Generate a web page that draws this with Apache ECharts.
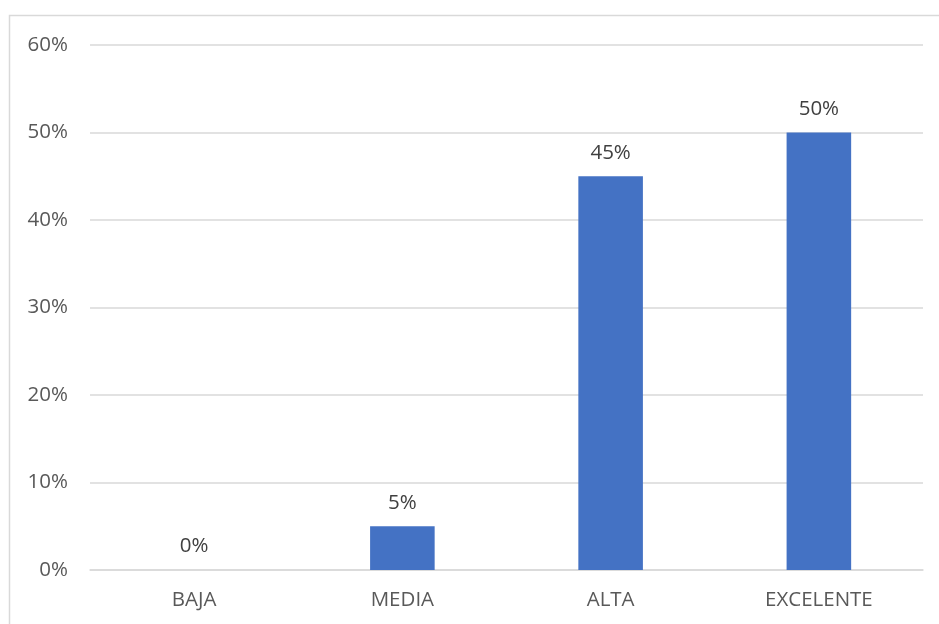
<!DOCTYPE html>
<html><head><meta charset="utf-8">
<style>html,body{margin:0;padding:0;background:#fff;}#c{width:939px;height:624px;}</style>
<script src="https://cdn.jsdelivr.net/npm/echarts@6/dist/echarts.min.js"></script>
</head><body><div id="c"></div>
<script>
const categories = ['BAJA', 'MEDIA', 'ALTA', 'EXCELENTE'];
const values = [0, 5, 45, 50];
const yTicks = [0, 10, 20, 30, 40, 50, 60];

const chart = echarts.init(document.getElementById('c'));
const font = '"Open Sans", sans-serif';
chart.setOption({
  animation: false,
  graphic: [{
    type: 'rect', shape: { x: 9.5, y: 15.5, width: 1000, height: 700 },
    style: { fill: 'none', stroke: '#d9d9d9', lineWidth: 1.5 }, silent: true
  }],
  grid: { left: 90, right: 16, top: 45, bottom: 54, containLabel: false },
  xAxis: {
    type: 'category', data: categories,
    axisLine: { lineStyle: { color: '#d9d9d9', width: 1.5 } },
    axisTick: { show: false },
    axisLabel: { color: '#595959', fontFamily: font, fontSize: 20.5, margin: 20 }
  },
  yAxis: {
    type: 'value', min: yTicks[0], max: yTicks[yTicks.length - 1], interval: 10,
    axisLine: { show: false }, axisTick: { show: false },
    splitLine: { lineStyle: { color: '#d9d9d9', width: 1.5 } },
    axisLabel: { color: '#595959', fontFamily: font, fontSize: 20.5, margin: 22, formatter: v => v + '%' }
  },
  series: [{
    type: 'bar', data: values, barWidth: '31%',
    itemStyle: { color: '#4472C4' },
    label: { show: true, position: 'top', distance: 13, color: '#404040', fontFamily: font, fontSize: 20.5, formatter: p => p.value + '%' }
  }]
});
</script></body></html>
